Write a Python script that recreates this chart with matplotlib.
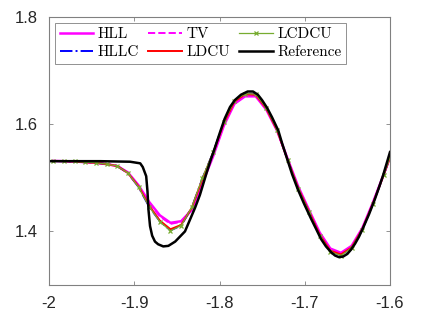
import numpy as np
import matplotlib
matplotlib.use('Agg')
import matplotlib.pyplot as plt

# numerical solutions on the coarse grid
x_num = [-1.995 + 0.0125 * k for k in range(33)]

lcdcu = [1.5315, 1.531, 1.5305, 1.529, 1.528, 1.5255, 1.522, 1.509, 1.483, 1.446,
         1.418, 1.401, 1.411, 1.445, 1.500, 1.548, 1.604, 1.644, 1.657, 1.656,
         1.630, 1.590, 1.533, 1.479, 1.436, 1.392, 1.362, 1.355, 1.369, 1.403,
         1.452, 1.505, 1.56]
ldcu = [1.5315, 1.531, 1.5305, 1.529, 1.528, 1.5255, 1.522, 1.509, 1.484, 1.448,
        1.420, 1.404, 1.412, 1.444, 1.498, 1.546, 1.602, 1.642, 1.656, 1.655,
        1.629, 1.589, 1.533, 1.480, 1.437, 1.394, 1.364, 1.357, 1.370, 1.404,
        1.452, 1.505, 1.56]
hllc = [1.5315, 1.531, 1.5305, 1.529, 1.528, 1.5255, 1.522, 1.509, 1.483, 1.446,
        1.419, 1.402, 1.411, 1.444, 1.499, 1.547, 1.603, 1.643, 1.656, 1.656,
        1.630, 1.590, 1.533, 1.480, 1.436, 1.393, 1.363, 1.356, 1.369, 1.403,
        1.452, 1.505, 1.56]
hll = [1.5315, 1.531, 1.5305, 1.529, 1.528, 1.5255, 1.522, 1.510, 1.486, 1.455,
       1.430, 1.416, 1.419, 1.440, 1.490, 1.540, 1.597, 1.638, 1.652, 1.652,
       1.627, 1.588, 1.535, 1.483, 1.440, 1.398, 1.368, 1.360, 1.373, 1.406,
       1.454, 1.506, 1.56]
tv = [1.5315, 1.531, 1.5305, 1.529, 1.528, 1.5255, 1.522, 1.510, 1.485, 1.453,
      1.428, 1.414, 1.418, 1.441, 1.492, 1.542, 1.599, 1.640, 1.654, 1.653,
      1.628, 1.589, 1.534, 1.482, 1.439, 1.396, 1.366, 1.358, 1.371, 1.405,
      1.453, 1.506, 1.56]

# reference solution
x_ref = [-2.0, -1.940, -1.905, -1.893, -1.890, -1.886, -1.8845, -1.8833, -1.8815,
         -1.879, -1.8757, -1.872, -1.866, -1.860, -1.852, -1.8405, -1.8287, -1.823,
         -1.815, -1.810, -1.805, -1.7994, -1.794, -1.7877, -1.782, -1.7748, -1.767,
         -1.7607, -1.755, -1.7501, -1.744, -1.7384, -1.731, -1.7267, -1.721, -1.7149,
         -1.708, -1.7009, -1.693, -1.6868, -1.681, -1.6751, -1.669, -1.6645, -1.660,
         -1.6551, -1.650, -1.6457, -1.641, -1.6364, -1.632, -1.6246, -1.618, -1.6129,
         -1.608, -1.600]
y_ref = [1.531, 1.531, 1.530, 1.527, 1.520, 1.503, 1.475, 1.44, 1.41,
         1.392, 1.381, 1.376, 1.372, 1.373, 1.381, 1.400, 1.444, 1.468,
         1.510, 1.535, 1.558, 1.585, 1.610, 1.632, 1.645, 1.655, 1.661,
         1.661, 1.655, 1.645, 1.630, 1.613, 1.588, 1.565, 1.537, 1.507,
         1.478, 1.452, 1.425, 1.405, 1.386, 1.372, 1.361, 1.355, 1.352,
         1.353, 1.358, 1.366, 1.377, 1.390, 1.405, 1.432, 1.459, 1.482,
         1.505, 1.548]

fig = plt.figure(figsize=(4.24, 3.19), dpi=100)
ax = fig.add_axes([0.1156, 0.1066, 0.8042, 0.8401])

ax.plot(x_num, hll, color='#FF00FF', lw=1.8, label='HLL')
ax.plot(x_num, hllc, color='#0000FF', lw=1.4, ls='-.', label='HLLC')
ax.plot(x_num, tv, color='#FF00FF', lw=1.4, ls='--', label='TV')
ax.plot(x_num, ldcu, color='#FF0000', lw=1.4, label='LDCU')
ax.plot(x_num, lcdcu, color='#77AC30', lw=0.9, marker='x', ms=3.5, mew=0.9, label='LCDCU')
ax.plot(x_ref, y_ref, color='black', lw=1.8, label='Reference')

ax.set_xlim(-2, -1.6)
ax.set_ylim(1.3, 1.8)
ax.set_xticks([-2, -1.9, -1.8, -1.7, -1.6])
ax.set_xticklabels(['-2', '-1.9', '-1.8', '-1.7', '-1.6'])
ax.set_yticks([1.4, 1.6, 1.8])
ax.set_yticklabels(['1.4', '1.6', '1.8'])

for s in ax.spines.values():
    s.set_color('#808080')
    s.set_linewidth(0.8)
ax.tick_params(direction='in', length=3, width=0.6, colors='#808080',
               top=True, right=True, labelsize=12, labelcolor='#262626', pad=8)
for t in ax.get_xticklabels() + ax.get_yticklabels():
    t.set_fontfamily('Liberation Sans')

leg = ax.legend(loc='upper left', ncol=3, prop={'family': 'cmr10', 'size': 11},
                frameon=True, fancybox=False, edgecolor='#808080', framealpha=1,
                handlelength=2.2, handletextpad=0.3, columnspacing=0.6,
                borderpad=0.3, labelspacing=0.25, borderaxespad=0.4)
leg.get_frame().set_linewidth(0.6)

fig.savefig('out.png', dpi=100)
